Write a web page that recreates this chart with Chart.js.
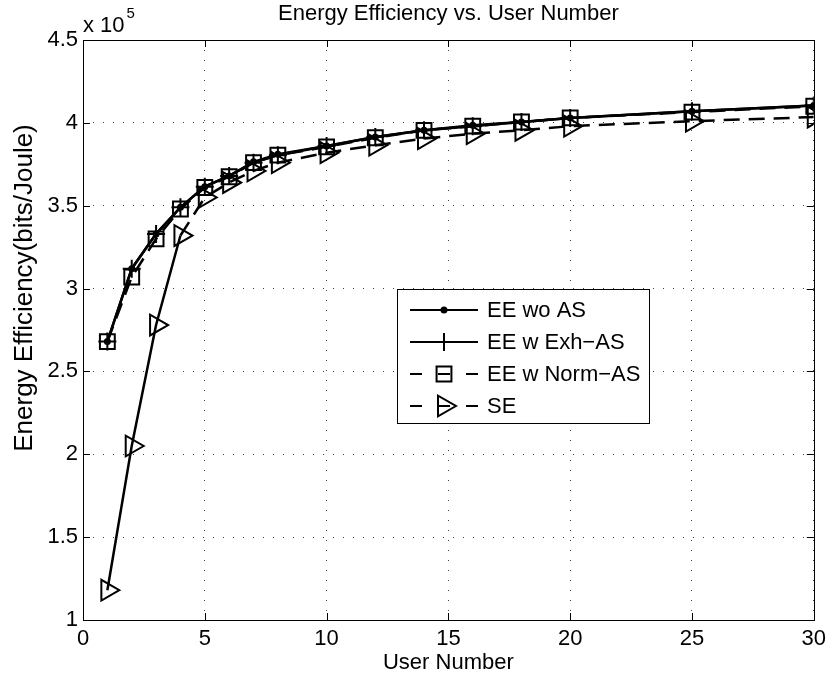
<!DOCTYPE html>
<html>
<head>
<meta charset="utf-8">
<script src="https://cdn.jsdelivr.net/npm/chart.js@4.4.1/dist/chart.umd.min.js"></script>
<style>
  html, body { margin: 0; padding: 0; background: #fff; }
  #wrap { width: 832px; height: 679px; }
</style>
</head>
<body>
<div id="wrap"><canvas id="chart" width="832" height="679"></canvas></div>
<script>
// values (bits/Joule)
const userNumbers = [1, 2, 3, 4, 5, 6, 7, 8, 10, 12, 14, 16, 18, 20, 25, 30];
const eeWoAS    = [268000, 312000, 333000, 349000, 361500, 368000, 376500, 381000, 386000, 391500, 395500, 398500, 400500, 403000, 407000, 410500];
const eeExhAS   = [268000, 312000, 333000, 349000, 361500, 368000, 376000, 380500, 386000, 391500, 395500, 398000, 400500, 403000, 407000, 410500];
const eeNormAS  = [268000, 307000, 330000, 348000, 361000, 367500, 376000, 380500, 385500, 391000, 395500, 398000, 400500, 403000, 406500, 410000];
const seValues  = [118000, 205000, 278000, 332000, 355000, 364000, 371000, 376000, 382000, 386500, 390500, 393500, 395500, 398000, 401000, 403500];

const seriesNames = ['EE wo AS', 'EE w Exh\u2212AS', 'EE w Norm\u2212AS', 'SE'];
const xTickValues = [0, 5, 10, 15, 20, 25, 30];
const yTickValues = [100000, 150000, 200000, 250000, 300000, 350000, 400000, 450000];

const FONT = '"Liberation Sans", Arial, Helvetica, sans-serif';

function pts(ys) {
    return userNumbers.map((x, i) => ({ x: x, y: ys[i] }));
}

const datasets = [
    { label: seriesNames[0], data: pts(eeWoAS), pointStyle: 'circle', pointRadius: 2.5,
      pointBackgroundColor: '#000', borderDash: [] },
    { label: seriesNames[1], data: pts(eeExhAS), pointStyle: 'cross', pointRadius: 9,
      pointBackgroundColor: 'rgba(0,0,0,0)', borderDash: [] },
    { label: seriesNames[2], data: pts(eeNormAS), pointStyle: 'rect', pointRadius: 10.5,
      pointBackgroundColor: 'rgba(0,0,0,0)', borderDash: [16, 9] },
    { label: seriesNames[3], data: pts(seValues), pointStyle: 'triangle', pointRotation: 90, pointRadius: 12,
      pointBackgroundColor: 'rgba(0,0,0,0)', borderDash: [16, 9],
      // the steep start of this curve looks solid in the original
      segment: { borderDash: c => (c.p0DataIndex < 3 ? [] : undefined) } }
].map(d => Object.assign({
    borderColor: '#000',
    borderWidth: 2.5,
    pointBorderColor: '#000',
    pointBorderWidth: 2,
    pointHoverRadius: d.pointRadius,
    tension: 0,
    fill: false
}, d));

function drawMarker(ctx, ds, x, y) {
    ctx.save();
    ctx.setLineDash([]);
    ctx.strokeStyle = '#000';
    ctx.fillStyle = ds.pointBackgroundColor;
    ctx.lineWidth = 2;
    if (Chart.helpers && Chart.helpers.drawPoint) {
        Chart.helpers.drawPoint(ctx, {
            pointStyle: ds.pointStyle,
            radius: ds.pointRadius,
            rotation: ds.pointRotation || 0,
            borderWidth: 2
        }, x, y);
    }
    ctx.restore();
}

const matlabDecor = {
    id: 'matlabDecor',
    afterDraw(chart) {
        const ctx = chart.ctx;
        const a = chart.chartArea;
        const xs = chart.scales.x, ys = chart.scales.y;
        ctx.save();

        // inward tick marks on all four sides
        ctx.strokeStyle = '#000';
        ctx.lineWidth = 1;
        ctx.beginPath();
        xTickValues.forEach(v => {
            const px = Math.round(xs.getPixelForValue(v)) + 0.5;
            ctx.moveTo(px, a.bottom); ctx.lineTo(px, a.bottom - 7);
            ctx.moveTo(px, a.top); ctx.lineTo(px, a.top + 7);
        });
        yTickValues.forEach(v => {
            const py = Math.round(ys.getPixelForValue(v)) + 0.5;
            ctx.moveTo(a.left, py); ctx.lineTo(a.left + 7, py);
            ctx.moveTo(a.right, py); ctx.lineTo(a.right - 7, py);
        });
        ctx.stroke();

        // axes box
        ctx.strokeRect(Math.round(a.left) + 0.5, Math.round(a.top) + 0.5,
            Math.round(a.right - a.left), Math.round(a.bottom - a.top));

        // title
        ctx.fillStyle = '#000';
        ctx.font = '22px ' + FONT;
        ctx.textAlign = 'center';
        ctx.textBaseline = 'middle';
        ctx.fillText('Energy Efficiency vs. User Number', (a.left + a.right) / 2, 14);

        // exponent label
        ctx.textAlign = 'left';
        ctx.fillText('x 10', a.left, 26);
        const w = ctx.measureText('x 10').width;
        ctx.font = '15px ' + FONT;
        ctx.fillText('5', a.left + w + 2, 14);

        // y axis label
        ctx.save();
        ctx.font = '26px ' + FONT;
        ctx.translate(25, 288);
        ctx.rotate(-Math.PI / 2);
        ctx.textAlign = 'center';
        ctx.fillText('Energy Efficiency(bits/Joule)', 0, 0);
        ctx.restore();

        // legend
        const box = { x: 397, y: 289, w: 252, h: 134 };
        ctx.fillStyle = '#fff';
        ctx.fillRect(box.x, box.y, box.w, box.h);
        ctx.strokeStyle = '#000';
        ctx.lineWidth = 1;
        ctx.strokeRect(box.x + 0.5, box.y + 0.5, box.w, box.h);
        chart.data.datasets.forEach((ds, i) => {
            const cy = 310 + i * 32;
            const x0 = 410, x1 = 478, cx = (x0 + x1) / 2;
            ctx.save();
            ctx.strokeStyle = '#000';
            ctx.lineWidth = 2;
            ctx.setLineDash(ds.borderDash.length ? [12, 16] : []);
            ctx.beginPath();
            ctx.moveTo(x0, cy); ctx.lineTo(x1, cy);
            ctx.stroke();
            ctx.restore();
            drawMarker(ctx, ds, cx, cy);
            ctx.fillStyle = '#000';
            ctx.font = '22px ' + FONT;
            ctx.textAlign = 'left';
            ctx.textBaseline = 'middle';
            ctx.fillText(ds.label, 487, cy + 1);
        });

        ctx.restore();
    }
};

new Chart(document.getElementById('chart').getContext('2d'), {
    type: 'line',
    data: { datasets: datasets },
    options: {
        responsive: false,
        animation: false,
        devicePixelRatio: 1,
        layout: { padding: { top: 40, right: 15, left: 0, bottom: 0 } },
        plugins: {
            legend: { display: false },
            title: { display: false },
            tooltip: { enabled: false }
        },
        scales: {
            x: {
                type: 'linear',
                min: 0,
                max: 30,
                afterFit: s => { s.height = 59; },
                afterBuildTicks: s => { s.ticks = xTickValues.map(v => ({ value: v })); },
                ticks: { color: '#000', font: { size: 22, family: FONT }, padding: 6, maxRotation: 0 },
                grid: { color: 'rgba(0,0,0,0.75)', drawTicks: false, lineWidth: 1 },
                border: { display: false, dash: [1, 9] },
                title: { display: true, text: 'User Number', color: '#000',
                         font: { size: 22, family: FONT }, padding: { top: 0, bottom: 3 } }
            },
            y: {
                type: 'linear',
                min: 100000,
                max: 450000,
                afterFit: s => { s.width = 83; },
                afterBuildTicks: s => { s.ticks = yTickValues.map(v => ({ value: v })); },
                ticks: { color: '#000', font: { size: 22, family: FONT }, padding: 5,
                         callback: v => String(Math.round(v / 1e4) / 10) },
                grid: { color: 'rgba(0,0,0,0.75)', drawTicks: false, lineWidth: 1 },
                border: { display: false, dash: [1, 9] },
                title: { display: false }
            }
        }
    },
    plugins: [matlabDecor]
});
</script>
</body>
</html>
